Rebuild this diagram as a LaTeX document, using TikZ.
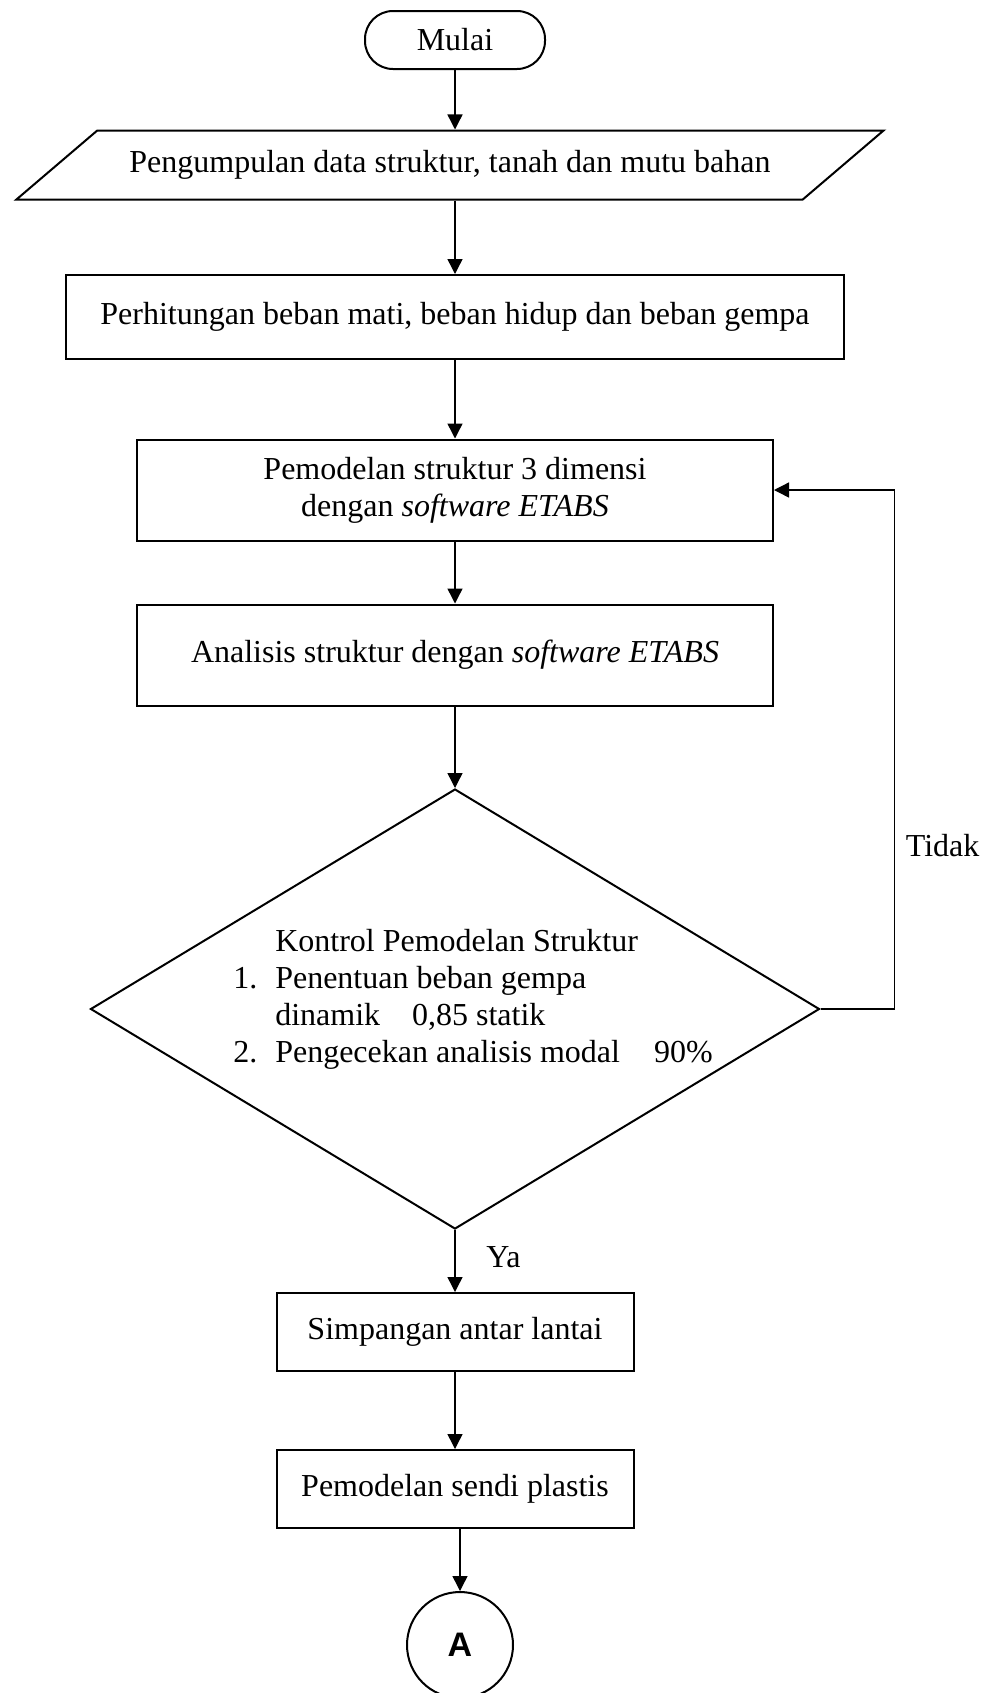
\documentclass[tikz,border=0pt]{standalone}
\usepackage{fontspec}
\setmainfont{Liberation Serif}
\newfontfamily\connfont{Liberation Sans}
\usetikzlibrary{shapes.geometric, arrows.meta}
\tikzset{
    box/.style={draw, line width=1pt, align=center, minimum width=318pt, minimum height=50.5pt},
    smallbox/.style={box, minimum width=178.5pt, minimum height=39pt},
    flow/.style={-{Triangle[length=7.5pt, width=7.5pt]}, line width=0.7pt}
}

\begin{document}
\begin{tikzpicture}[x=0.5pt, y=-0.5pt, font=\fontsize{16}{18.5}\selectfont]
        \useasboundingbox (0, 0) rectangle (988, 1693);

        \node[draw, line width=1pt, rounded corners=14pt, minimum width=90pt, minimum height=29pt] (start) at (455, 40) {Mulai};
        \node[draw, line width=1pt, trapezium, trapezium left angle=29.5, trapezium right angle=150.5, trapezium stretches=true, minimum width=436pt, minimum height=34.5pt] (data) at (450, 165) {Pengumpulan data struktur, tanah dan mutu bahan};
        \node[box, minimum width=389pt, minimum height=42pt] (beban) at (455, 317) {Perhitungan beban mati, beban hidup dan beban gempa};
        \node[box] (model) at (455, 490) {Pemodelan struktur 3 dimensi\\dengan \textit{software ETABS}};
        \node[box] (analisis) at (455, 655) {Analisis struktur dengan \textit{software ETABS}};
        \node[draw, line width=1pt, diamond, minimum width=364.5pt, minimum height=220pt, inner sep=0pt] (kontrol) at (455, 1009) {};
        \node (kontroltext) at (473, 1000) {\begin{tabular}{@{}l@{\hspace{9pt}}l@{}}
            & Kontrol Pemodelan Struktur\\
            1. & Penentuan beban gempa\\
            & dinamik\hspace{16pt}0,85 statik\\
            2. & Pengecekan analisis modal\hspace{17pt}90\%
        \end{tabular}};
        \node[smallbox] (simpangan) at (455, 1332) {Simpangan antar lantai};
        \node[smallbox] (sendi) at (455, 1489) {Pemodelan sendi plastis};
        \node[draw, line width=1pt, circle, minimum size=53pt, inner sep=0pt, font=\connfont\bfseries\fontsize{17}{20}\selectfont] (A) at (460, 1645) {A};

        \draw[flow] (start) -- (start |- data.north);
        \draw[flow] (data.south -| beban) -- (beban);
        \draw[flow] (beban) -- (model);
        \draw[flow] (model) -- (analisis);
        \draw[flow] (analisis) -- (kontrol);
        \draw[flow] (kontrol.east) -- ++(74, 0) |- node[pos=0.157, right=2pt] {Tidak} (model.east);
        \draw[flow] (kontrol.south) -- node[pos=0.44, right=12pt] {Ya} (simpangan);
        \draw[flow] (simpangan) -- (sendi);
        \draw[flow] (sendi.south -| A) -- (A);
    \end{tikzpicture}
\end{document}
